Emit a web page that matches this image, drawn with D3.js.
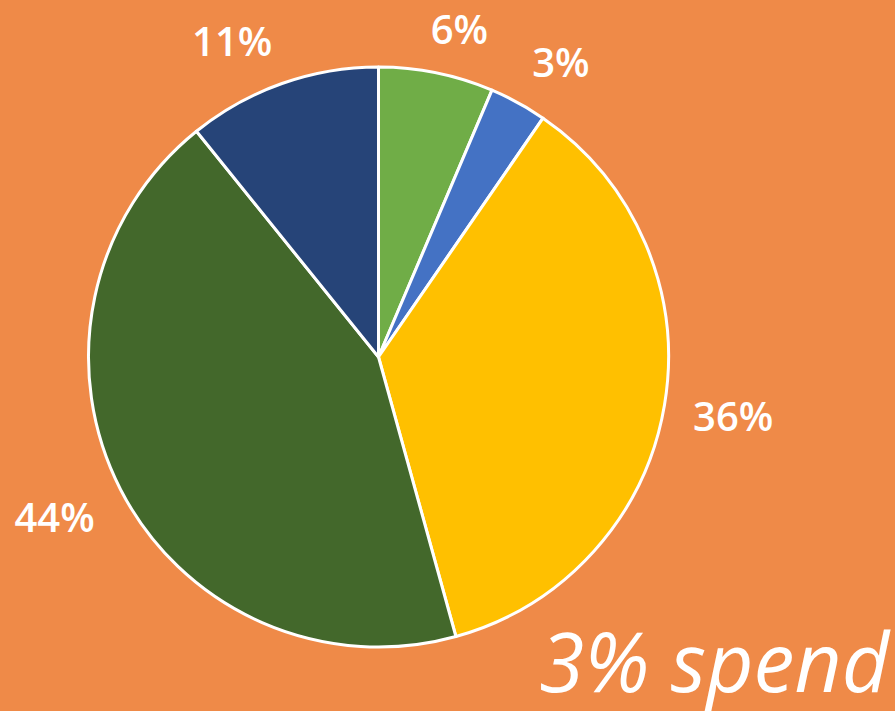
<!DOCTYPE html>
<html>
<head>
<meta charset="utf-8">
<script src="https://cdn.jsdelivr.net/npm/d3@7"></script>
<style>
  html, body { margin: 0; padding: 0; background: #EF8A48; }
  svg { display: block; }
</style>
</head>
<body>
<div id="chart"></div>
<script>
// slices, clockwise from 12 o'clock
const categories = ['A', 'B', 'C', 'D', 'E'];
const values = [6.4, 3.2, 36.1, 43.5, 10.8];
const colors = ['#70AD47', '#4472C4', '#FFC000', '#43682B', '#264478'];
const caption = '3% spend';

const width = 895, height = 711;
const cx = 378.5, cy = 357, radius = 290;
const labelRadius = 319;
const fontSize = 40;

const svg = d3.select('#chart')
  .append('svg')
  .attr('width', width)
  .attr('height', height);

svg.append('rect')
  .attr('width', width)
  .attr('height', height)
  .attr('fill', '#EF8A48');

const g = svg.append('g')
  .attr('transform', `translate(${cx},${cy})`);

const pie = d3.pie().sort(null).value(d => d.value);
const arc = d3.arc().innerRadius(0).outerRadius(radius);

const data = categories.map((c, i) => ({ name: c, value: values[i], color: colors[i] }));
const arcs = pie(data);

g.selectAll('path.slice')
  .data(arcs)
  .enter()
  .append('path')
  .attr('class', 'slice')
  .attr('d', arc)
  .attr('fill', d => d.data.color)
  .attr('stroke', '#fff')
  .attr('stroke-width', 3)
  .attr('stroke-linejoin', 'round');

// labels: nearest corner of the text box sits on the label circle
const clamp = v => Math.max(-1, Math.min(1, v));
const labels = g.selectAll('text.label')
  .data(arcs)
  .enter()
  .append('text')
  .attr('class', 'label')
  .attr('text-anchor', 'middle')
  .style('font-family', '"Open Sans", sans-serif')
  .style('font-weight', 600)
  .style('font-size', fontSize + 'px')
  .style('fill', '#fff')
  .text(d => Math.round(d.data.value) + '%');

labels.each(function(d) {
  const a = (d.startAngle + d.endAngle) / 2;
  const w = this.getComputedTextLength();
  const h = fontSize * 0.72;
  const sx = Math.sin(a), sy = -Math.cos(a);
  const x = labelRadius * sx + clamp(sx * 3) * w / 2;
  const y = labelRadius * sy + clamp(sy * 3) * h / 2;
  d3.select(this)
    .attr('x', x)
    .attr('y', y + h / 2);
});

svg.append('text')
  .attr('x', 889)
  .attr('y', 692)
  .attr('text-anchor', 'end')
  .style('font-family', '"Open Sans", sans-serif')
  .style('font-style', 'italic')
  .style('font-weight', 400)
  .style('font-size', '82px')
  .style('fill', '#fff')
  .text(caption);
</script>
</body>
</html>
